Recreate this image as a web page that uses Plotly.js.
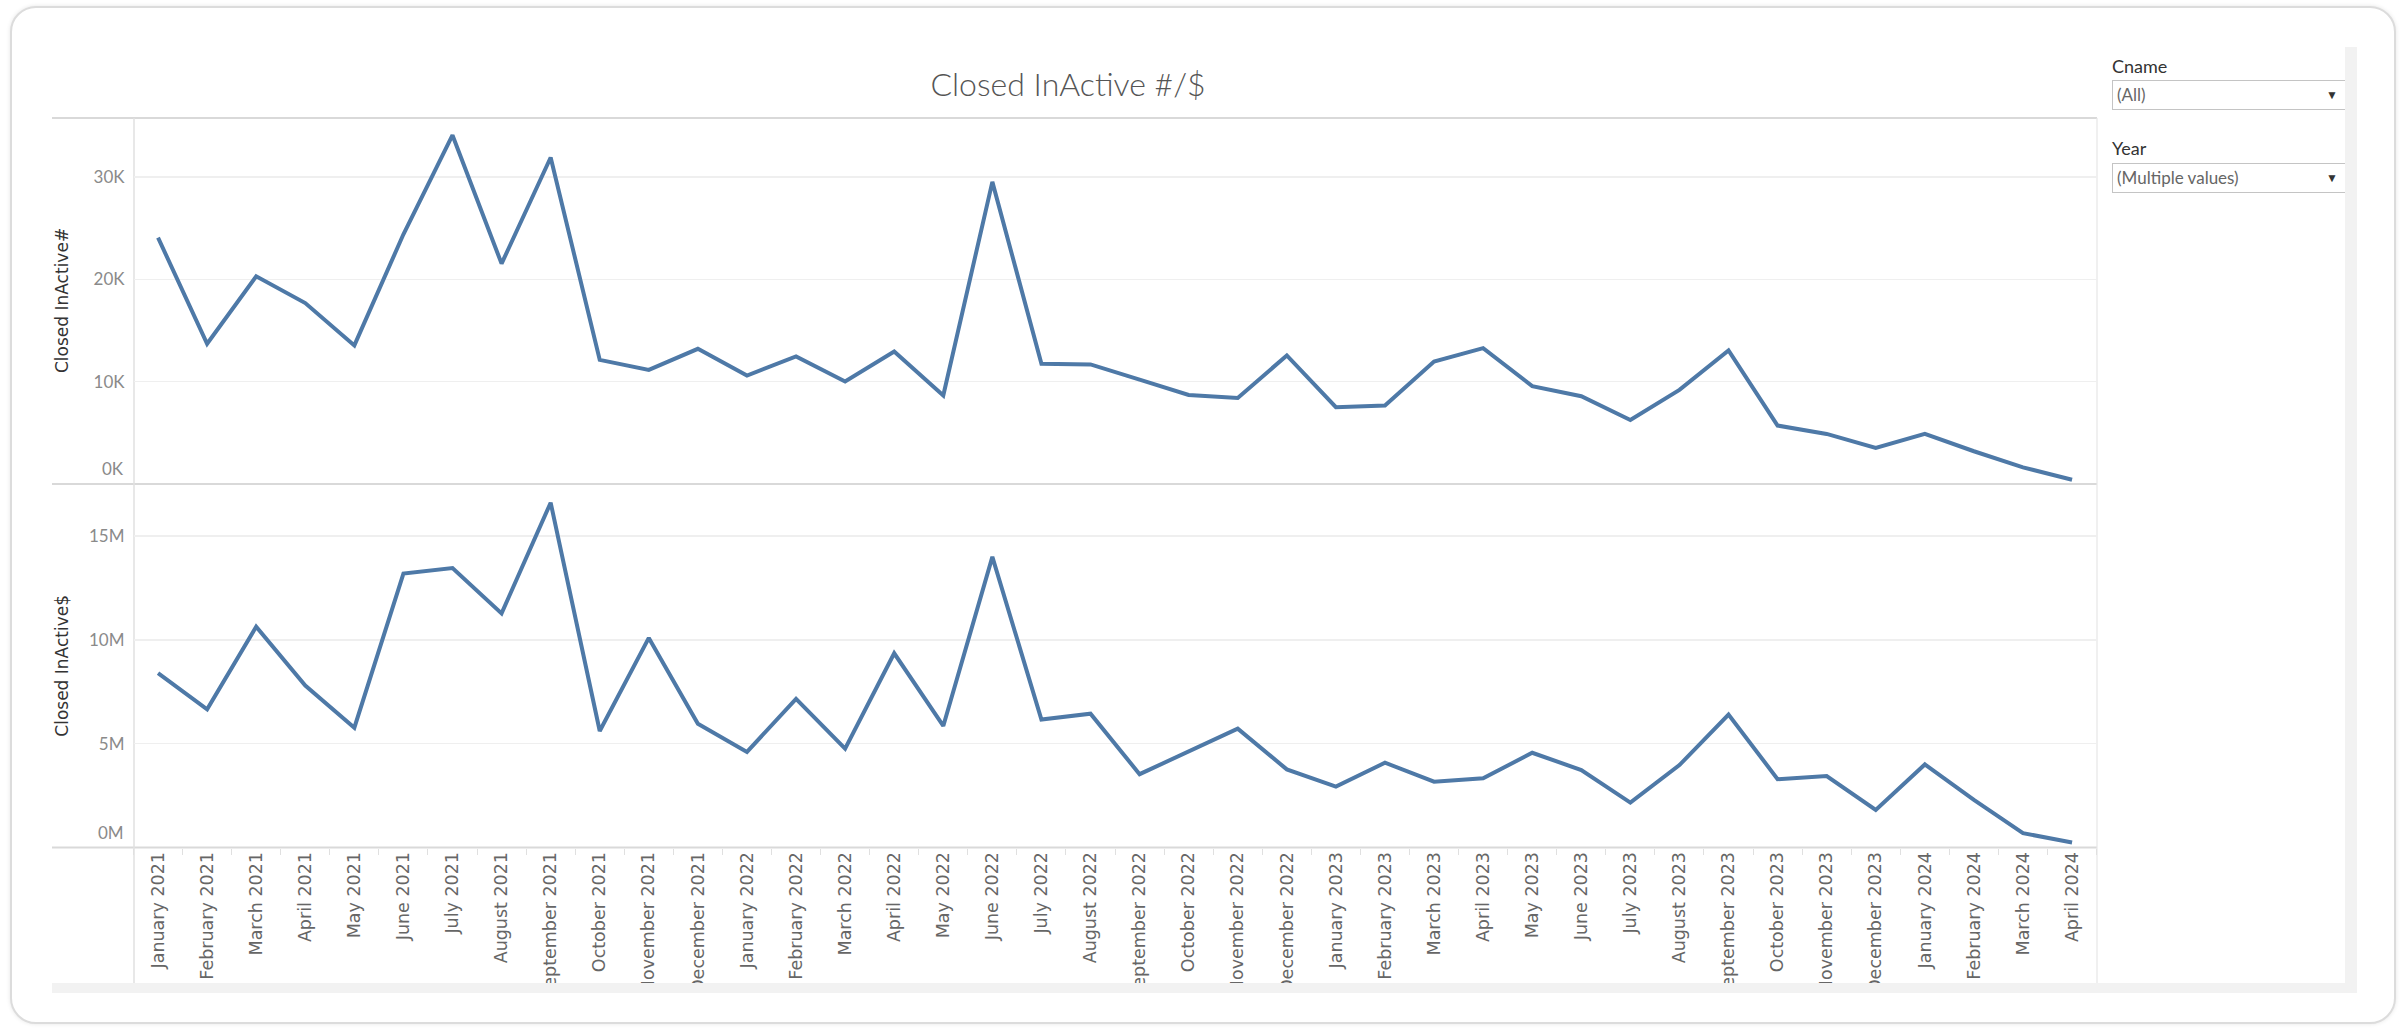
<!DOCTYPE html>
<html>
<head>
<meta charset="utf-8">
<script src="https://cdn.plot.ly/plotly-3.0.1.min.js"></script>
<style>
  html, body { margin:0; padding:0; background:#fff; width:2402px; height:1031px; overflow:hidden; }
  #card { position:absolute; left:10px; top:6px; width:2386px; height:1018px; border:2px solid #dcdcdc; border-radius:26px; box-sizing:border-box; box-shadow:0 0 4px rgba(0,0,0,0.10); background:#fff; z-index:0; }
  #chart { position:absolute; left:0; top:0; width:2402px; height:1031px; z-index:1; }
  #strip { position:absolute; left:2345px; top:47px; width:12px; height:946px; background:#f2f2f2; z-index:3; }
  .flab { position:absolute; left:2112px; font-family:Lato, "Open Sans", sans-serif; font-size:18px; color:#333; z-index:2; line-height:20px; }
  .fbox { position:absolute; left:2112px; width:240px; height:30px; border:1px solid #c4c4c4; box-sizing:border-box; background:#fff; font-family:Lato, "Open Sans", sans-serif; font-size:17px; color:#666; line-height:27px; padding-left:4px; z-index:2; }
  .arr { position:absolute; left:213px; top:0; font-size:12px; color:#333; line-height:28px; }
</style>
</head>
<body>
<div id="card"></div>
<div id="chart"></div>
<div class="flab" style="top:56px;">Cname</div>
<div class="fbox" style="top:80px;">(All)<span class="arr">&#9660;</span></div>
<div class="flab" style="top:138px;">Year</div>
<div class="fbox" style="top:163px;">(Multiple values)<span class="arr">&#9660;</span></div>
<div id="strip"></div>
<script>
// ---- data ----
const months = [
  "January 2021","February 2021","March 2021","April 2021","May 2021","June 2021",
  "July 2021","August 2021","September 2021","October 2021","November 2021","December 2021",
  "January 2022","February 2022","March 2022","April 2022","May 2022","June 2022",
  "July 2022","August 2022","September 2022","October 2022","November 2022","December 2022",
  "January 2023","February 2023","March 2023","April 2023","May 2023","June 2023",
  "July 2023","August 2023","September 2023","October 2023","November 2023","December 2023",
  "January 2024","February 2024","March 2024","April 2024"
];
const closedInactiveCount = [
  24070, 13700, 20290, 17680, 13540, 24400, 34080, 21530, 31900, 12130, 11150, 13210,
  10600, 12460, 10010, 12950, 8640, 29520, 11740, 11680, 10200, 8700, 8410, 12560,
  7500, 7660, 11970, 13270, 9560, 8580, 6260, 9200, 13050, 5710, 4890, 3520,
  4890, 3200, 1630, 420
];
const closedInactiveDollars = [
  8390000, 6650000, 10630000, 7800000, 5770000, 13190000, 13450000, 11270000, 16600000, 5610000, 10090000, 5960000,
  4600000, 7160000, 4760000, 9350000, 5850000, 13990000, 6160000, 6440000, 3530000, 4620000, 5720000, 3760000,
  2930000, 4080000, 3170000, 3330000, 4560000, 3730000, 2160000, 3970000, 6400000, 3290000, 3440000, 1810000,
  4000000, 2290000, 690000, 240000
];
const countTickVals = [10000, 20000, 30000];
const countTickText = ["10K", "20K", "30K"];
const countZeroText = "0K";
const dollarTickVals = [5000000, 10000000, 15000000];
const dollarTickText = ["5M", "10M", "15M"];
const dollarZeroText = "0M";
const countRange = [0, 35760];
const dollarRange = [0, 17500000];

// ---- geometry helpers (pixels -> paper) ----
const W = 2402, H = 1031;
const px = p => p / W;
const py = p => 1 - p / H;

const lineColor = '#4e79a7';
const tickFont = { family: 'Lato, "Open Sans", sans-serif', size: 17, color: '#8a8a8a' };

const traces = [
  { type: 'scatter', mode: 'lines', x: months, y: closedInactiveCount, xaxis: 'x', yaxis: 'y',
    line: { color: lineColor, width: 4 }, hoverinfo: 'skip' },
  { type: 'scatter', mode: 'lines', x: months, y: closedInactiveDollars, xaxis: 'x', yaxis: 'y2',
    line: { color: lineColor, width: 4 }, hoverinfo: 'skip' }
];

const lineCol = '#d9d9d9';
const shapes = [
  { type: 'line', xref: 'paper', yref: 'paper', x0: px(52), x1: px(2097), y0: py(118), y1: py(118), line: { color: lineCol, width: 2 }, layer: 'below' },
  { type: 'line', xref: 'paper', yref: 'paper', x0: px(52), x1: px(2097), y0: py(484), y1: py(484), line: { color: lineCol, width: 2 }, layer: 'below' },
  { type: 'line', xref: 'paper', yref: 'paper', x0: px(52), x1: px(2097), y0: py(847.5), y1: py(847.5), line: { color: lineCol, width: 2 }, layer: 'below' },
  { type: 'line', xref: 'paper', yref: 'paper', x0: px(134), x1: px(134), y0: py(118), y1: py(983), line: { color: '#e0e0e0', width: 1.5 }, layer: 'below' },
  { type: 'line', xref: 'paper', yref: 'paper', x0: px(2097), x1: px(2097), y0: py(118), y1: py(983), line: { color: '#e6e6e6', width: 1.2 }, layer: 'below' },
  // bottom scroll band and clipping cover for long month labels
  { type: 'rect', xref: 'paper', yref: 'paper', x0: px(52), x1: px(2357), y0: py(983), y1: py(993), fillcolor: '#f2f2f2', line: { width: 0 }, layer: 'above' },
  { type: 'rect', xref: 'paper', yref: 'paper', x0: px(40), x1: px(2380), y0: py(993), y1: py(1016), fillcolor: '#ffffff', line: { width: 0 }, layer: 'above' }
];

const layout = {
  width: W, height: H, autosize: false,
  margin: { l: 0, r: 0, t: 0, b: 0, pad: 0 },
  paper_bgcolor: 'rgba(0,0,0,0)', plot_bgcolor: 'rgba(0,0,0,0)',
  showlegend: false,
  title: { text: 'Closed InActive #/$', x: px(1068), xanchor: 'center', xref: 'paper',
           y: py(85), yanchor: 'middle', yref: 'container',
           font: { family: 'Lato, "Open Sans", sans-serif', size: 32, color: '#555555', weight: 300 } },
  xaxis: {
    type: 'category', domain: [px(133.5), px(2096.6)], anchor: 'y2', range: [-0.5, months.length - 0.5],
    tickangle: -90, tickfont: { family: '"DejaVu Sans", Verdana, sans-serif', size: 17.5, color: '#666666' },
    ticks: 'outside', ticklen: 6, tickcolor: '#e0e0e0', tickson: 'boundaries',
    showgrid: false, zeroline: false, showline: false, fixedrange: true
  },
  yaxis: {
    domain: [py(484), py(118)], anchor: 'x', range: countRange,
    tickvals: countTickVals, ticktext: countTickText, tickfont: tickFont, ticks: '', ticklabelstandoff: 8,
    showgrid: true, gridcolor: '#efefef', gridwidth: 1.5, zeroline: false, showline: false, fixedrange: true
  },
  yaxis2: {
    domain: [py(847.5), py(484)], anchor: 'x', range: dollarRange,
    tickvals: dollarTickVals, ticktext: dollarTickText, tickfont: tickFont, ticks: '', ticklabelstandoff: 8,
    showgrid: true, gridcolor: '#efefef', gridwidth: 1.5, zeroline: false, showline: false, fixedrange: true
  },
  shapes: shapes,
  annotations: [
    { text: countZeroText, xref: 'paper', yref: 'y', x: px(126), y: 0, xanchor: 'right', yanchor: 'bottom',
      yshift: 3, showarrow: false, font: tickFont },
    { text: dollarZeroText, xref: 'paper', yref: 'y2', x: px(126), y: 0, xanchor: 'right', yanchor: 'bottom',
      yshift: 3, showarrow: false, font: tickFont },
    { text: 'Closed InActive#', xref: 'paper', yref: 'paper', x: px(62), y: py(301), textangle: -90,
      showarrow: false, xanchor: 'center', yanchor: 'middle',
      font: { family: '"DejaVu Sans", Verdana, sans-serif', size: 17, color: '#333333' } },
    { text: 'Closed InActive$', xref: 'paper', yref: 'paper', x: px(62), y: py(665.7), textangle: -90,
      showarrow: false, xanchor: 'center', yanchor: 'middle',
      font: { family: '"DejaVu Sans", Verdana, sans-serif', size: 17, color: '#333333' } }
  ]
};

Plotly.newPlot('chart', traces, layout, { staticPlot: true, displayModeBar: false });
</script>
</body>
</html>
